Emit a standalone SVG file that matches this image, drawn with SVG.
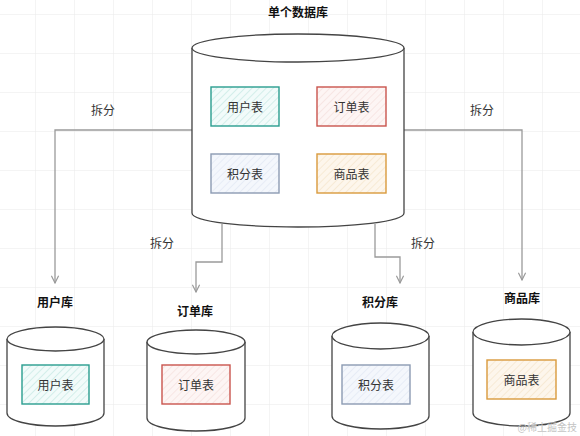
<svg xmlns="http://www.w3.org/2000/svg" width="580" height="436" viewBox="0 0 580 436">
<defs>
<pattern id="grid" patternUnits="userSpaceOnUse" x="35" y="14" width="39" height="39">
<path d="M0 0H39M0 0V39" fill="none" stroke="#e9e9e9" stroke-width="1"/>
</pattern>
<pattern id="hTeal" patternUnits="userSpaceOnUse" width="5" height="5" patternTransform="rotate(45)">
<rect width="5" height="5" fill="#f2fbfa"/><line x1="0" y1="0" x2="0" y2="5" stroke="#bfe6e0" stroke-width="1.2"/>
</pattern>
<pattern id="hRed" patternUnits="userSpaceOnUse" width="5" height="5" patternTransform="rotate(45)">
<rect width="5" height="5" fill="#fdf5f4"/><line x1="0" y1="0" x2="0" y2="5" stroke="#f3dcd9" stroke-width="1.2"/>
</pattern>
<pattern id="hBlue" patternUnits="userSpaceOnUse" width="5" height="5" patternTransform="rotate(45)">
<rect width="5" height="5" fill="#f4f7fc"/><line x1="0" y1="0" x2="0" y2="5" stroke="#dfe6f2" stroke-width="1.2"/>
</pattern>
<pattern id="hOrange" patternUnits="userSpaceOnUse" width="5" height="5" patternTransform="rotate(45)">
<rect width="5" height="5" fill="#fdf6ec"/><line x1="0" y1="0" x2="0" y2="5" stroke="#f4e2c6" stroke-width="1.2"/>
</pattern>
<marker id="arr" viewBox="0 0 10 10" refX="9" refY="5" markerWidth="9" markerHeight="9" orient="auto" markerUnits="userSpaceOnUse">
<path d="M1 1L9 5L1 9" fill="none" stroke="#999" stroke-width="1.3"/>
</marker>
</defs>
<style>
.cyl{fill:#fff;stroke:#444;stroke-width:1.3}
.t{font-family:"Noto Sans CJK SC","Noto Sans",sans-serif;font-size:12px;fill:#333;text-anchor:middle;dominant-baseline:central}
.b{font-weight:bold;fill:#111}
.c{fill:none;stroke:#9a9a9a;stroke-width:1.3}
.teal{fill:url(#hTeal);stroke:#2a9d8f;stroke-width:1.4}
.red{fill:url(#hRed);stroke:#c9544d;stroke-width:1.4}
.blue{fill:url(#hBlue);stroke:#8c9bb3;stroke-width:1.4}
.orange{fill:url(#hOrange);stroke:#d99a3c;stroke-width:1.4}
</style>
<rect width="580" height="436" fill="#fff"/>
<rect width="580" height="436" fill="url(#grid)"/>

<g id="connectors">
<path class="c" d="M192 130H55V283" marker-end="url(#arr)"/>
<path class="c" d="M404 130H522V280" marker-end="url(#arr)"/>
<path class="c" d="M222 224V262H196V292" marker-end="url(#arr)"/>
<path class="c" d="M375 224V257H400V283" marker-end="url(#arr)"/>
<text class="t" x="103" y="109">拆分</text>
<text class="t" x="482" y="109">拆分</text>
<text class="t" x="162" y="242">拆分</text>
<text class="t" x="423" y="242">拆分</text>
</g>

<g id="main-db">
<text class="t b" x="298" y="11">单个数据库</text>
<path class="cyl" d="M192 48V213C192 222 245 227 298 227C351 227 404 222 404 213V48"/>
<ellipse class="cyl" cx="298" cy="48" rx="106" ry="14"/>
<g id="main-user"><rect class="teal" x="211" y="87" width="68" height="39"/><text class="t" x="245" y="106.5">用户表</text></g>
<g id="main-order"><rect class="red" x="317" y="87" width="69" height="39"/><text class="t" x="351.5" y="106.5">订单表</text></g>
<g id="main-points"><rect class="blue" x="211" y="154" width="68" height="39"/><text class="t" x="245" y="173.5">积分表</text></g>
<g id="main-goods"><rect class="orange" x="317" y="154" width="69" height="39"/><text class="t" x="351.5" y="173.5">商品表</text></g>
</g>

<g id="user-db">
<text class="t b" x="55" y="301">用户库</text>
<path class="cyl" d="M7 339V413C7 421 31 426 55.5 426C80 426 104 421 104 413V339"/>
<ellipse class="cyl" cx="55.5" cy="339" rx="48.5" ry="12"/>
<rect class="teal" x="22" y="365" width="67" height="39"/><text class="t" x="55.5" y="384.5">用户表</text>
</g>

<g id="order-db">
<text class="t b" x="195" y="310">订单库</text>
<path class="cyl" d="M147 342V418C147 426 171 431 196 431C221 431 245 426 245 418V342"/>
<ellipse class="cyl" cx="196" cy="342" rx="49" ry="12"/>
<rect class="red" x="162" y="365" width="68" height="39"/><text class="t" x="196" y="384.5">订单表</text>
</g>

<g id="points-db">
<text class="t b" x="380" y="301">积分库</text>
<path class="cyl" d="M332 336V416C332 424 356 429 380.5 429C405 429 429 424 429 416V336"/>
<ellipse class="cyl" cx="380.5" cy="336" rx="48.5" ry="13"/>
<rect class="blue" x="342" y="365" width="68" height="39"/><text class="t" x="376" y="384.5">积分表</text>
</g>

<g id="goods-db">
<text class="t b" x="522" y="297">商品库</text>
<path class="cyl" d="M473 332V413C473 421 497 426 521.5 426C546 426 570 421 570 413V332"/>
<ellipse class="cyl" cx="521.5" cy="332" rx="48.5" ry="13"/>
<rect class="orange" x="487" y="360" width="69" height="39"/><text class="t" x="521.5" y="379.5">商品表</text>
</g>

<text x="577" y="431" text-anchor="end" font-family="Noto Sans CJK SC,sans-serif" font-size="10" fill="#c4c4c4">@稀土掘金技</text>
</svg>
